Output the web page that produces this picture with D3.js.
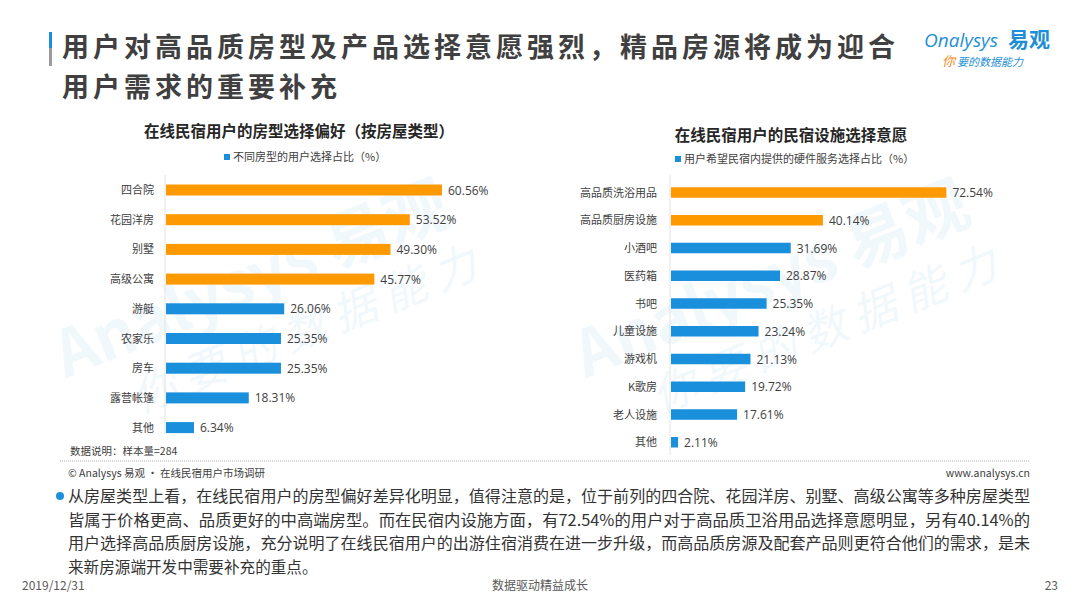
<!DOCTYPE html>
<html><head><meta charset="utf-8">
<script src="https://cdn.jsdelivr.net/npm/d3@7/dist/d3.min.js"></script>
<style>
body{margin:0;background:#fff;}
svg{font-family:"Noto Sans CJK SC","Microsoft YaHei",sans-serif;}
</style></head><body>
<div id="chart"></div>
<script>
const leftCategories = ["四合院","花园洋房","别墅","高级公寓","游艇","农家乐","房车","露营帐篷","其他"];
const leftValues = [60.56,53.52,49.30,45.77,26.06,25.35,25.35,18.31,6.34];
const leftHighlight = 4; // first 4 are orange
const rightCategories = ["高品质洗浴用品","高品质厨房设施","小酒吧","医药箱","书吧","儿童设施","游戏机","K歌房","老人设施","其他"];
const rightValues = [72.54,40.14,31.69,28.87,25.35,23.24,21.13,19.72,17.61,2.11];
const rightHighlight = 2;
const titleLines = ["用户对高品质房型及产品选择意愿强烈，精品房源将成为迎合","用户需求的重要补充"];
const paragraphLines = [
 "从房屋类型上看，在线民宿用户的房型偏好差异化明显，值得注意的是，位于前列的四合院、花园洋房、别墅、高级公寓等多种房屋类型",
 "皆属于价格更高、品质更好的中高端房型。而在民宿内设施方面，有72.54%的用户对于高品质卫浴用品选择意愿明显，另有40.14%的",
 "用户选择高品质厨房设施，充分说明了在线民宿用户的出游住宿消费在进一步升级，而高品质房源及配套产品则更符合他们的需求，是未",
 "来新房源端开发中需要补充的重点。"
];

const W=1080,H=608;
const ORANGE="#FF9900", BLUE="#1A8FDB", TXT="#404040";
const svg=d3.select("#chart").append("svg").attr("width",W).attr("height",H);

// watermarks
function watermark(cx,cy){
  const g=svg.append("g").attr("transform",`translate(${cx},${cy}) rotate(-22)`).attr("opacity",0.06);
  g.append("text").attr("x",0).attr("y",0).attr("font-size",64).attr("font-weight","bold").attr("fill",BLUE).attr("text-anchor","middle").text("Analysys 易观");
  g.append("text").attr("x",30).attr("y",60).attr("font-size",44).attr("fill",BLUE).attr("text-anchor","middle").attr("font-style","italic").text("你 要 的 数 据 能 力");
}
watermark(260,300); watermark(780,300);

// title accent bar
svg.append("rect").attr("x",49).attr("y",32).attr("width",3).attr("height",16).attr("fill",BLUE);
svg.append("rect").attr("x",49).attr("y",48).attr("width",3).attr("height",18).attr("fill","#9a9a9a");
svg.selectAll("text.t").data(titleLines).join("text").attr("class","t")
  .attr("x",62).attr("y",(d,i)=>57+i*39.5).attr("font-size",27).attr("font-weight","bold").attr("fill","#404040")
  .attr("letter-spacing",4).text(d=>d);

// logo
svg.append("text").attr("x",924).attr("y",47).attr("font-size",19).attr("fill","#1E8FD6").attr("font-family","Open Sans, sans-serif").attr("font-style","italic").text("Onalysys");
svg.append("text").attr("x",1008).attr("y",47).attr("font-size",21).attr("font-weight","bold").attr("fill","#1E8FD6").text("易观");
svg.append("text").attr("x",942).attr("y",66).attr("font-size",13).attr("fill","#F08A1C").attr("font-style","italic").text("你");
svg.append("text").attr("x",957).attr("y",66).attr("font-size",11).attr("fill","#1E8FD6").attr("font-style","italic").text("要的数据能力");

function barChart(opt){
  const {cats,vals,hl,axisX,top,step,barH,k,labelX,title,titleX,titleY,legend,legendX,legendY,axisTop,axisBot}=opt;
  const x=d3.scaleLinear().domain([0,100]).range([axisX,axisX+k*100]);
  const y=d3.scalePoint().domain(cats).range([top,top+step*(cats.length-1)]);
  svg.append("text").attr("x",titleX).attr("y",titleY).attr("text-anchor","middle").attr("font-size",15.5).attr("font-weight","bold").attr("fill","#262626").text(title);
  svg.append("rect").attr("x",legendX).attr("y",legendY-7).attr("width",6).attr("height",6).attr("fill",BLUE);
  svg.append("text").attr("x",legendX+9).attr("y",legendY).attr("font-size",11).attr("fill",TXT).text(legend);
  svg.append("line").attr("x1",axisX).attr("x2",axisX).attr("y1",axisTop).attr("y2",axisBot).attr("stroke","#e3e3e3");
  const g=svg.append("g");
  g.selectAll("rect.b").data(vals).join("rect").attr("class","b")
    .attr("x",x(0)+1).attr("y",(d,i)=>y(cats[i])-barH/2).attr("width",d=>x(d)-x(0)-1).attr("height",barH)
    .attr("fill",(d,i)=>i<hl?ORANGE:BLUE);
  g.selectAll("text.v").data(vals).join("text").attr("class","v")
    .attr("x",d=>x(d)+6).attr("y",(d,i)=>y(cats[i])+4.5).attr("font-size",12).attr("fill",TXT)
    .attr("font-family","Open Sans, sans-serif").text(d=>d.toFixed(2)+"%");
  g.selectAll("text.c").data(cats).join("text").attr("class","c")
    .attr("x",labelX).attr("y",d=>y(d)+4).attr("text-anchor","end").attr("font-size",11).attr("fill",TXT).text(d=>d);
}
barChart({cats:leftCategories,vals:leftValues,hl:leftHighlight,axisX:165,top:190,step:29.7,barH:11,k:4.574,labelX:154,
  title:"在线民宿用户的房型选择偏好（按房屋类型）",titleX:299,titleY:137,legend:"不同房型的用户选择占比（%）",legendX:224,legendY:161,axisTop:175,axisBot:434});
barChart({cats:rightCategories,vals:rightValues,hl:rightHighlight,axisX:670,top:192.5,step:27.75,barH:10.5,k:3.81,labelX:657,
  title:"在线民宿用户的民宿设施选择意愿",titleX:791,titleY:141,legend:"用户希望民宿内提供的硬件服务选择占比（%）",legendX:675,legendY:163,axisTop:175,axisBot:455});

// notes
svg.append("text").attr("x",70).attr("y",455).attr("font-size",10.5).attr("fill",TXT).text("数据说明：样本量=284");
svg.append("line").attr("x1",60).attr("x2",1030).attr("y1",461).attr("y2",461).attr("stroke","#b0b0b0").attr("stroke-dasharray","1,1");
svg.append("text").attr("x",68).attr("y",477).attr("font-size",10.5).attr("fill",TXT).text("© Analysys 易观 · 在线民宿用户市场调研");
svg.append("text").attr("x",1030).attr("y",477).attr("text-anchor","end").attr("font-size",10.5).attr("fill",TXT).text("www.analysys.cn");

// paragraph
svg.append("circle").attr("cx",60).attr("cy",496).attr("r",4).attr("fill",BLUE);
svg.selectAll("text.p").data(paragraphLines).join("text").attr("class","p")
  .attr("x",68).attr("y",(d,i)=>502+i*23.5).attr("font-size",15.6).attr("fill","#333")
  .attr("textLength",(d,i)=>i<3?962:null).attr("lengthAdjust","spacingAndGlyphs").text(d=>d);

// footer
svg.append("text").attr("x",22).attr("y",590).attr("font-size",12).attr("fill","#595959").text("2019/12/31");
svg.append("text").attr("x",540).attr("y",590).attr("text-anchor","middle").attr("font-size",12).attr("fill","#595959").text("数据驱动精益成长");
svg.append("text").attr("x",1058).attr("y",590).attr("text-anchor","end").attr("font-size",12).attr("fill","#595959").text("23");
</script></body></html>
